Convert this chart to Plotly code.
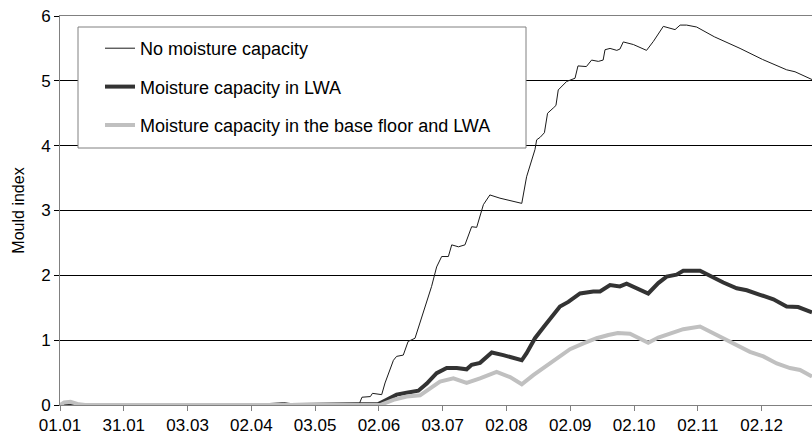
import plotly.graph_objects as go

# day of year (01.01 = 0) and mould index for each case
days_none = [0, 3, 8, 16, 20, 25, 60, 62, 66, 104, 107, 112, 116, 142.5, 144, 148, 149, 153.4,
             155, 159, 160.5, 163.7, 166, 169.3, 174, 177.2, 179.6, 182, 185.2, 186.8, 190,
             193.1, 196.3, 198.7, 201.9, 205, 209.8, 220.2, 222.5, 226.5, 227.3, 229, 231,
             232.5, 235.2, 236.5, 237.6, 241.6, 245.6, 247, 251, 253.5, 256.7, 259, 259.9,
             262.3, 265.5, 267, 268.6, 273.4, 279.7, 283, 287.7, 293.3, 295.7, 298.8, 303.6,
             312, 324.3, 335, 346.5, 350.5, 358.6]
mould_none = [0, 0, 0.01, 0, 0.02, 0, 0, 0.01, 0, 0, 0.03, 0.01, 0, 0, 0.12, 0.13, 0.18, 0.16,
              0.34, 0.69, 0.75, 0.77, 0.98, 1.03, 1.52, 1.83, 2.13, 2.29, 2.29, 2.47, 2.44,
              2.47, 2.75, 2.74, 3.09, 3.24, 3.19, 3.11, 3.52, 3.94, 4.09, 4.13, 4.20,
              4.50, 4.58, 4.62, 4.86, 4.99, 5.04, 5.23, 5.22, 5.32, 5.30, 5.32, 5.48,
              5.50, 5.47, 5.49, 5.60, 5.56, 5.47, 5.61, 5.84, 5.79, 5.86, 5.86, 5.83,
              5.68, 5.50, 5.33, 5.17, 5.14, 5.02]

days_lwa = [0, 20, 22, 100, 106, 110, 150, 151.8, 155.8, 160.5, 165.3, 170.9, 174.9, 179.6,
            184.4, 189.2, 193.9, 196.3, 200.3, 205.9, 211.4, 220.2, 222.5, 226.5, 231.3,
            234.5, 238.4, 242.4, 248, 254.3, 257.5, 262.3, 267, 270.2, 275, 280.5, 285.3,
            289.3, 294, 297.2, 305.2, 310, 316.3, 322.7, 327.5, 333.8, 340.2, 346.5, 352, 358.6]
mould_lwa = [0, 0.01, 0, 0, 0.01, 0, 0, 0.015, 0.08, 0.16, 0.19, 0.22, 0.33, 0.49,
             0.57, 0.57, 0.55, 0.62, 0.65, 0.81, 0.77, 0.69, 0.80, 1.03, 1.23,
             1.36, 1.52, 1.59, 1.72, 1.75, 1.75, 1.85, 1.83, 1.87, 1.80, 1.72, 1.88,
             1.98, 2.01, 2.07, 2.07, 1.99, 1.89, 1.80, 1.77, 1.70, 1.63, 1.52, 1.51, 1.43]

days_floor = [0, 2, 5, 9, 12, 152.6, 159, 165.3, 171.7, 176.4, 181.2, 187.6, 193.9, 200.3,
              208.2, 214.6, 220.2, 225.7, 231.3, 236.9, 243.2, 249.6, 255.9, 261.5, 266,
              271.8, 276.6, 280.5, 285.3, 290.9, 297.2, 305.2, 311.5, 321.1, 329, 335.4,
              341.8, 348.1, 352.9, 358.6]
mould_floor = [0, 0.04, 0.05, 0.01, 0, 0, 0.08, 0.13, 0.15, 0.26, 0.36, 0.41, 0.34, 0.41,
               0.51, 0.43, 0.32, 0.46, 0.59, 0.72, 0.86, 0.95, 1.03, 1.08, 1.11,
               1.10, 1.03, 0.96, 1.04, 1.10, 1.17, 1.21, 1.11, 0.95, 0.82, 0.75,
               0.64, 0.57, 0.54, 0.44]

tick_labels = ['01.01', '31.01', '03.03', '02.04', '03.05', '02.06',
               '03.07', '02.08', '02.09', '02.10', '02.11', '02.12']
tick_days = [i * 365 / 12 for i in range(len(tick_labels))]

FONT = 'Arial, Liberation Sans, sans-serif'

fig = go.Figure()
fig.add_trace(go.Scatter(x=days_none, y=mould_none, mode='lines',
                         name='No moisture capacity', legendgroup='a',
                         line=dict(color='#1a1a1a', width=1)))
fig.add_trace(go.Scatter(x=days_lwa, y=mould_lwa, mode='lines',
                         name='Moisture capacity in LWA', legendgroup='b',
                         line=dict(color='#333333', width=4)))
fig.add_trace(go.Scatter(x=days_floor, y=mould_floor, mode='lines',
                         name='Moisture capacity in the base floor and LWA', legendgroup='c',
                         line=dict(color='#c0c0c0', width=4)))

# white legend box (covers gridlines)
fig.add_shape(type='rect', xref='paper', yref='paper',
              x0=18 / 752, x1=466 / 752, y0=257 / 389, y1=378 / 389,
              line=dict(color='#808080', width=1), fillcolor='white', layer='above')

fig.update_layout(
    width=812, height=442,
    margin=dict(l=60, r=0, t=16, b=37),
    paper_bgcolor='white', plot_bgcolor='white',
    font=dict(family=FONT, color='black', size=17),
    showlegend=True,
    legend=dict(x=40 / 752, y=375 / 389, xanchor='left', yanchor='top',
                bgcolor='rgba(0,0,0,0)', borderwidth=0,
                font=dict(size=18), tracegroupgap=12, itemwidth=30),
    xaxis=dict(range=[0, 358.6], tickmode='array', tickvals=tick_days, ticktext=tick_labels,
               showgrid=False, zeroline=False, showline=True, linecolor='#808080',
               linewidth=1, mirror=True, ticks='outside', ticklen=5, tickcolor='#808080',
               tickfont=dict(size=17)),
    yaxis=dict(range=[0, 6], dtick=1, showgrid=True, gridcolor='black', gridwidth=1,
               zeroline=False, showline=True, linecolor='#808080', linewidth=1,
               ticks='outside', ticklen=5, tickcolor='black', tickfont=dict(size=17),
               title=dict(text='Mould index', font=dict(size=16), standoff=12)),
)

# drop the default 8px body margin so the figure sits at the window corner
fig.write_html('out.html', config={'displayModeBar': False},
               post_script="document.body.style.margin='0';")
